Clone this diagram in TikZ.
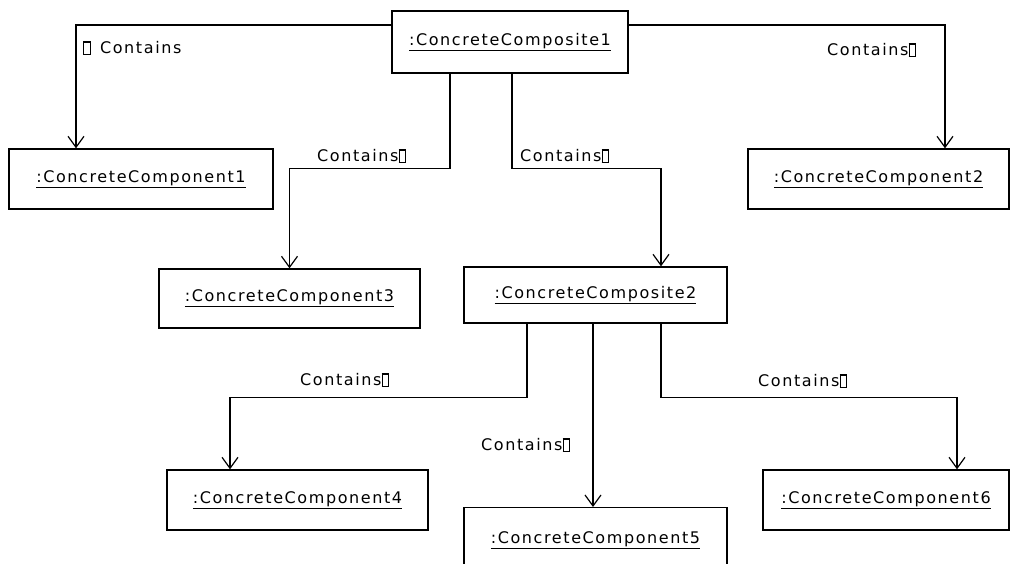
\documentclass[tikz,border=0pt]{standalone}
\usepackage{fontspec}
\newfontfamily\uifont[LetterSpace=10]{DejaVu Sans}
\usetikzlibrary{arrows.meta}
% placeholder box shown where the role glyph is missing
\newcommand\missingglyph{{\setlength\fboxsep{0pt}\setlength\fboxrule{1.2pt}\fbox{\rule{5.5pt}{0pt}\rule{0pt}{11pt}}}}
\tikzset{
  uitext/.style={font=\uifont\fontsize{16}{19}\selectfont},
  objbox/.style={uitext, draw, line width=1.4pt, inner sep=0pt, fill=white},
  link/.style={line width=1.3pt, -{Straight Barb[length=11pt,width=16pt,line width=1.2pt]}},
  tag/.style={uitext, inner sep=0pt, anchor=west},
}
\begin{document}
\begin{tikzpicture}[x=1pt,y=-1pt]
\useasboundingbox (0,0) rectangle (1012,563);
\fill[white] (0,0) rectangle (1012,563);
\clip (0,0) rectangle (1012,563);

% objects
\node[objbox, minimum width=236, minimum height=62] (c1) at (510,42) {\underline{:ConcreteComposite1}};
\node[objbox, minimum width=264, minimum height=60] (k1) at (141,179) {\underline{:ConcreteComponent1}};
\node[objbox, minimum width=261, minimum height=60] (k2) at (878.5,179) {\underline{:ConcreteComponent2}};
\node[objbox, minimum width=261, minimum height=59] (k3) at (289.5,298.5) {\underline{:ConcreteComponent3}};
\node[objbox, minimum width=263, minimum height=56] (c2) at (595.5,295) {\underline{:ConcreteComposite2}};
\node[objbox, minimum width=261, minimum height=60] (k4) at (297.5,500) {\underline{:ConcreteComponent4}};
\node[objbox, minimum width=263, minimum height=60, anchor=north] (k5) at (595.5,507) {\raisebox{0pt}[11pt][0pt]{\underline{:ConcreteComponent5}}};
\node[objbox, minimum width=246, minimum height=60] (k6) at (886,500) {\underline{:ConcreteComponent6}};

% containment links
\draw[link] ([yshift=17]c1.west) -| ([xshift=-65]k1.north);
\draw[link] ([yshift=17]c1.east) -| ([xshift=66.5]k2.north);
\draw[link] ([xshift=-60]c1.south) -- ++(0,95) -| (k3.north);
\draw[link] ([xshift=2]c1.south) -- ++(0,95) -| ([xshift=65.5]c2.north);
\draw[link] ([xshift=-68.5]c2.south) -- ++(0,74) -| ([xshift=-67.5]k4.north);
\draw[link] ([xshift=-2.5]c2.south) -- ([xshift=-2.5]k5.north);
\draw[link] ([xshift=65.5]c2.south) -- ++(0,74) -| ([xshift=71]k6.north);

% link labels
\node[tag] (l1) at (83,48) {\missingglyph\hspace{9pt}Contains};
\node[tag] (l2) at (827,50) {Contains\missingglyph};
\node[tag] (l3) at (317,156) {Contains\missingglyph};
\node[tag] (l4) at (520,156) {Contains\missingglyph};
\node[tag] (l5) at (300,380) {Contains\missingglyph};
\node[tag] (l6) at (481,445) {Contains\missingglyph};
\node[tag] (l7) at (758,381) {Contains\missingglyph};
\end{tikzpicture}
\end{document}
